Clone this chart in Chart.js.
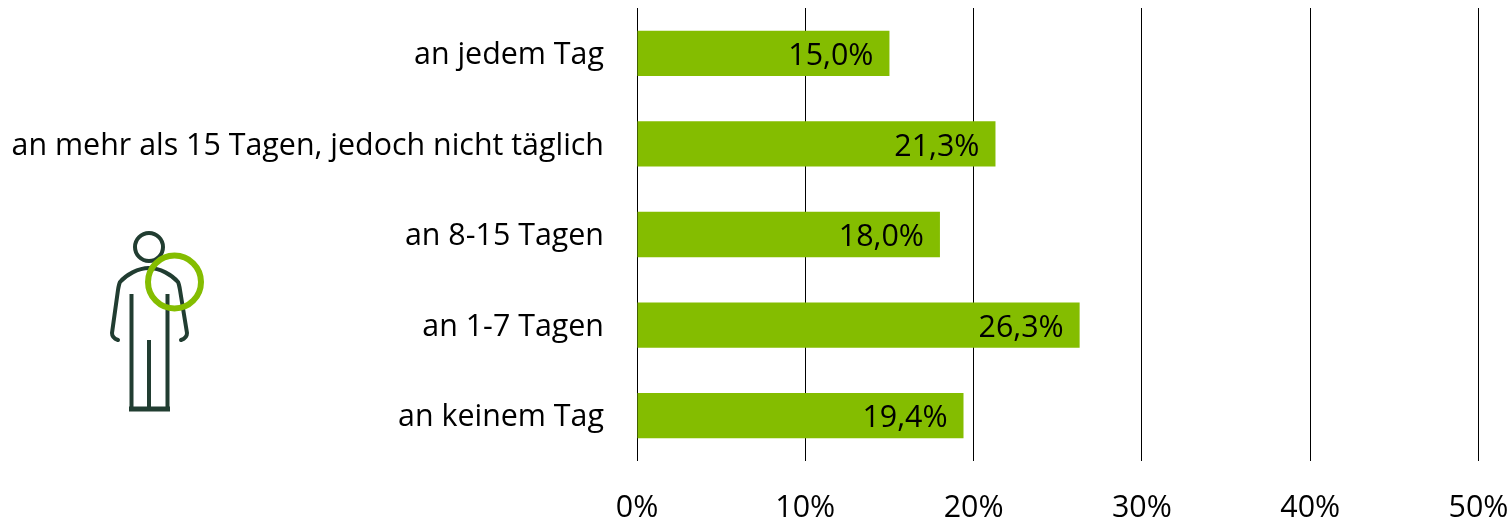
<!DOCTYPE html>
<html><head><meta charset="utf-8">
<style>html,body{margin:0;padding:0;background:#fff}#w{position:relative;width:1511px;height:524px}canvas{display:block}</style>
<script src="https://cdn.jsdelivr.net/npm/chart.js@4"></script></head>
<body><div id="w"><canvas id="c" width="1511" height="524"></canvas></div>
<script>
const categories=["an jedem Tag","an mehr als 15 Tagen, jedoch nicht täglich","an 8-15 Tagen","an 1-7 Tagen","an keinem Tag"];
const values=[15.0,21.3,18.0,26.3,19.4];
const tickValues=[0,10,20,30,40,50];
const FONT='"Open Sans"';
const SIZE=30.4;
const dark='#213d31', green='#84bd00';
const labelsPlugin={id:'vals',afterDatasetsDraw(ch){
  const m=ch.getDatasetMeta(0),c=ch.ctx;c.save();
  c.font=SIZE+'px '+FONT;c.fillStyle='#000';c.textAlign='right';c.textBaseline='middle';
  m.data.forEach((b,i)=>c.fillText(values[i].toFixed(1).replace('.',',')+'%',b.x-16,b.y+3));
  c.restore();
}};
const iconPlugin={id:'icon',afterDraw(ch){
  const c=ch.ctx;c.save();c.lineWidth=4;c.strokeStyle=dark;c.lineJoin='round';c.lineCap='round';
  c.beginPath();c.arc(149,247,14,0,Math.PI*2);c.stroke();
  c.beginPath();c.moveTo(149,268);c.bezierCurveTo(138,268,126,275,120,282);c.quadraticCurveTo(119,284,118,290);c.lineTo(112,333);c.quadraticCurveTo(112,338,118,340);c.stroke();
  c.beginPath();c.moveTo(149,268);c.bezierCurveTo(160,268,172,275,178,282);c.quadraticCurveTo(179,284,180,290);c.lineTo(187,333);c.quadraticCurveTo(187,338,181,340);c.stroke();
  c.lineCap='butt';
  c.beginPath();c.moveTo(131.5,294);c.lineTo(131.5,410);c.stroke();
  c.beginPath();c.moveTo(167.5,294);c.lineTo(167.5,410);c.stroke();
  c.beginPath();c.moveTo(149,340);c.lineTo(149,410);c.stroke();
  c.lineWidth=5;c.beginPath();c.moveTo(129,409);c.lineTo(170,409);c.stroke();
  c.strokeStyle=green;c.lineWidth=6;c.beginPath();c.arc(174.5,282,26.5,0,Math.PI*2);c.stroke();
  c.restore();
}};
function noPad(a){a.paddingLeft=a.paddingRight=a.paddingTop=a.paddingBottom=0}
new Chart(document.getElementById('c'),{
  type:'bar',
  data:{labels:categories,datasets:[{data:values,backgroundColor:green,borderWidth:0,categoryPercentage:0.5,barPercentage:1}]},
  plugins:[labelsPlugin,iconPlugin],
  options:{indexAxis:'y',responsive:false,animation:false,
    layout:{padding:{left:0,right:32.5,top:8,bottom:0}},
    plugins:{legend:{display:false},tooltip:{enabled:false}},
    scales:{
      x:{min:0,max:50,afterFit(a){a.height=63;noPad(a)},
        grid:{color:'#000',lineWidth:1,drawTicks:false},border:{display:false},
        ticks:{stepSize:10,padding:29,maxRotation:0,color:'#000',font:{family:FONT,size:SIZE},callback:v=>tickValues.includes(v)?v+'%':''}},
      y:{afterFit(a){a.width=637;noPad(a)},
        grid:{display:false,drawTicks:false},border:{display:false},
        ticks:{padding:33,labelOffset:2,color:'#000',font:{family:FONT,size:SIZE},autoSkip:false}}
    }
  }
});
</script></body></html>
